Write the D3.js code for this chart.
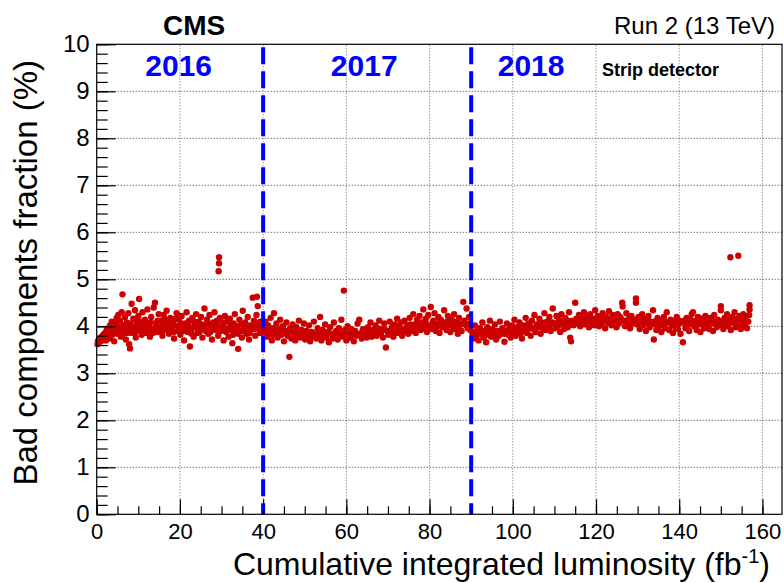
<!DOCTYPE html>
<html>
<head>
<meta charset="utf-8">
<script src="https://cdn.jsdelivr.net/npm/d3@7"></script>
<style>
	body { margin: 0; background: #fff; }
	text { font-family: "Liberation Sans", Arial, sans-serif; }
</style>
</head>
<body onload="onLoad()">
<div></div>
<script>
// [lumi (fb-1), bad fraction (%)]
var points2016 = [
	[0.2,3.62],[0.4,3.70],[0.6,3.66],[0.8,3.74],[1.0,3.68],[1.2,3.78],[1.4,3.72],[1.6,3.82],[1.8,3.76],[2.0,3.86],
	[2.2,3.70],[2.4,3.92],[2.6,3.80],[2.8,3.96],[3.0,3.74],[3.2,4.02],[3.4,3.88],[3.6,4.10],[3.8,3.82],[4.0,3.98],
	[4.2,3.68],[4.4,4.06],[4.6,3.90],[4.8,4.18],[5.0,3.84],[5.2,4.24],[5.4,3.96],[5.6,4.12],[5.8,3.78],[6.0,4.30],
	[6.2,4.68],[6.4,4.02],[6.6,3.88],[6.8,4.20],[7.0,3.72],[7.2,4.08],[7.4,3.94],[7.6,4.28],[7.8,3.62],[8.0,3.53],
	[8.2,4.00],[8.4,4.48],[8.6,3.86],[8.8,4.16],[9.0,3.92],[9.2,4.34],[9.4,3.76],[9.6,4.06],[9.8,3.98],[10.0,4.22],
	[10.2,4.58],[10.4,3.90],[10.6,4.10],[10.8,3.82],[11.0,4.30],[11.3,3.96],[11.6,4.14],[11.9,3.86],[12.2,4.36],[12.5,4.02],
	[12.8,3.78],[13.1,4.20],[13.4,3.94],[13.7,4.40],[14.0,4.50],[14.3,4.08],[14.6,3.88],[14.9,4.26],[15.2,3.98],[15.5,4.12],
	[15.8,3.80],[16.1,4.24],[16.4,3.92],[16.8,4.33],[17.1,4.06],[17.4,3.84],[17.7,4.18],[18.0,3.96],[18.3,4.10],[18.6,3.74],
	[18.9,4.02],[19.2,4.28],[19.5,3.90],[19.8,4.14],[20.1,3.82],[20.4,4.22],[20.7,3.98],[21.0,3.70],[21.3,4.06],[21.6,4.30],
	[21.9,3.88],[22.2,4.12],[22.4,3.57],[22.7,3.94],[23.0,4.18],[23.3,3.78],[23.6,4.04],[23.9,4.26],[24.2,3.86],[24.5,4.10],
	[24.8,3.96],[25.1,4.20],[25.4,3.76],[25.7,4.02],[25.9,4.38],[26.2,3.90],[26.5,4.14],[26.8,3.84],[27.1,4.24],[27.4,3.98],
	[27.7,3.72],[28.0,4.08],[28.3,4.30],[28.6,3.92],[28.9,4.12],[29.2,3.80],[29.4,5.47],[29.4,5.34],[29.3,5.17],[29.6,4.18],
	[29.9,3.96],[30.2,4.04],[30.5,3.70],[30.8,4.22],[31.1,3.88],[31.4,4.10],[31.7,3.78],[32.0,4.16],[32.3,3.94],[32.6,3.64],
	[32.9,4.06],[33.2,4.26],[33.5,3.86],[33.8,4.00],[34.0,3.52],[34.3,4.14],[34.6,3.90],[34.9,3.76],[35.1,4.33],[35.4,3.98],
	[35.7,4.08],[36.0,3.84],[36.3,4.20],[36.6,3.72],[36.9,4.02],[37.2,3.94],[37.5,4.61],[37.8,4.12],[38.1,3.80],[38.4,4.24],
	[38.7,4.43],[39.0,3.96],[39.3,4.10],[39.6,3.88],[39.9,4.04],[38.5,4.63],
	[0.3,3.68],[0.9,3.72],[1.5,3.76],[2.1,3.80],[2.7,3.84],[3.3,3.78],[3.9,3.94],[4.5,3.86],[5.1,4.00],[5.7,3.92],
	[6.3,3.84],[6.9,3.98],[7.5,3.86],[8.1,4.06],[8.7,3.96],[9.3,3.88],[9.9,4.10],[10.5,3.98],[11.1,3.88],[11.7,4.04],
	[12.3,3.92],[12.9,4.08],[13.5,3.86],[14.1,3.98],[14.7,4.12],[15.3,3.90],[15.9,4.02],[16.5,4.14],[17.2,3.94],[17.9,4.04],
	[18.5,3.88],[19.0,4.16],[19.7,3.98],[20.3,4.06],[20.9,3.90],[21.5,3.96],[22.1,4.02],[22.8,3.84],[23.5,4.10],[24.1,3.96],
	[24.7,3.88],[25.3,4.04],[26.0,3.94],[26.7,4.06],[27.3,3.88],[28.1,3.96],[28.8,4.02],[29.8,3.90],[30.4,4.08],[31.0,3.96],
	[31.6,3.92],[32.2,4.02],[32.8,3.82],[33.4,3.96],[34.1,3.84],[34.8,4.04],[35.5,3.90],[36.2,3.96],[36.8,3.86],[37.4,4.00],
	[38.0,3.94],[38.6,4.02],[39.2,3.86],[39.8,3.96]
];

var points2017 = [
	[40.3,3.92],[40.6,4.10],[40.9,3.78],[41.2,4.02],[41.5,3.86],[41.8,4.18],[42.1,3.70],[42.4,3.96],[42.6,4.28],[42.9,3.84],
	[43.2,4.06],[43.5,3.76],[43.8,3.94],[44.1,4.14],[44.4,3.82],[44.7,4.00],[45.0,3.68],[45.3,3.90],[45.6,4.08],[45.9,3.80],
	[46.3,3.35],[46.5,3.96],[46.8,3.74],[47.1,4.04],[47.4,3.86],[47.7,3.70],[48.0,3.98],[48.3,3.80],[48.6,4.12],[48.9,3.76],
	[49.2,3.92],[49.5,3.84],[49.8,4.06],[50.1,3.72],[50.4,3.90],[50.7,3.80],[51.0,4.02],[51.3,3.68],[51.6,3.88],[51.9,3.78],
	[52.2,4.10],[52.5,3.84],[52.8,3.74],[53.1,3.96],[53.4,3.82],[53.7,4.20],[54.0,3.70],[54.3,3.92],[54.6,3.80],[54.9,4.04],
	[55.2,3.76],[55.5,3.88],[55.8,3.66],[56.1,3.98],[56.4,3.84],[56.7,3.74],[57.0,4.08],[57.3,3.80],[57.6,3.90],[57.9,3.72],
	[58.2,3.96],[58.5,3.86],[58.8,4.14],[59.1,3.78],[59.4,4.76],[59.7,3.92],[60.0,3.70],[60.3,4.00],[60.6,3.82],[60.9,3.76],
	[61.2,3.94],[61.5,3.86],[61.8,3.68],[62.1,3.90],[62.4,3.80],[62.7,4.06],[63.1,4.14],[63.4,3.84],[63.7,3.74],[64.0,3.94],
	[64.3,3.82],[64.6,3.88],[64.9,3.76],[65.2,3.98],[65.5,3.84],[65.8,4.08],[66.1,3.78],[66.4,3.92],[66.7,3.86],[67.0,4.02],
	[67.3,3.80],[67.6,3.96],[67.9,4.12],[68.2,3.84],[68.5,3.94],[68.8,3.76],[69.1,4.06],[69.5,3.55],[69.8,3.90],[70.1,3.82],
	[70.4,4.10],[70.7,3.88],[71.0,3.98],[71.3,3.78],[71.6,4.04],[71.9,3.92],[72.2,4.16],[72.5,3.86],[72.8,3.96],[73.1,4.08],
	[73.4,3.80],[73.7,3.94],[74.0,4.12],[74.3,3.88],[74.6,4.02],[74.9,3.84],[75.2,4.18],[75.5,3.96],[75.8,3.90],[76.1,4.26],
	[76.4,4.04],[76.7,3.86],[77.0,4.14],[77.3,3.98],[77.6,4.22],[77.9,3.92],[78.2,4.08],[78.5,4.36],[78.8,3.96],[79.1,4.16],
	[79.4,3.88],[79.7,4.24],[80.0,4.02],[80.3,4.41],[80.6,3.94],[80.9,4.12],[81.2,4.28],[81.5,3.90],[81.8,4.06],[82.1,4.20],
	[82.4,3.86],[82.7,4.14],[83.0,3.98],[83.5,4.34],[83.8,4.08],[84.1,3.92],[84.4,4.22],[84.7,4.02],[85.0,3.88],[85.3,4.16],
	[85.6,4.00],[85.9,4.26],[86.2,3.94],[86.5,4.10],[86.8,3.84],[87.1,4.18],[87.4,4.04],[87.7,3.90],[88.1,4.52],[88.4,4.12],
	[88.9,4.38],[89.2,3.96],[89.5,4.20],[89.8,3.92],
	[40.5,3.88],[41.4,3.96],[42.3,3.82],[43.0,3.92],[43.9,3.86],[44.8,3.94],[45.7,3.84],[46.7,3.90],[47.6,3.82],[48.5,3.88],
	[49.4,3.78],[50.3,3.84],[51.2,3.86],[52.1,3.80],[53.0,3.88],[53.9,3.84],[54.8,3.78],[55.7,3.86],[56.6,3.82],[57.5,3.88],
	[58.4,3.80],[59.3,3.86],[60.2,3.84],[61.1,3.80],[62.0,3.86],[62.9,3.82],[63.8,3.88],[64.7,3.82],[65.6,3.90],[66.5,3.84],
	[67.4,3.92],[68.3,3.86],[69.2,3.94],[70.0,3.88],[70.9,3.94],[71.8,3.86],[72.7,4.00],[73.6,3.92],[74.5,3.96],[75.4,4.04],
	[76.3,3.98],[77.2,4.06],[78.1,4.00],[79.0,4.08],[79.9,3.98],[80.8,4.06],[81.7,4.00],[82.6,4.08],[83.4,4.02],[84.3,4.10],
	[85.2,4.04],[86.1,4.08],[87.0,3.98],[87.9,4.06],[88.8,4.02],[89.6,4.06]
];

var points2018 = [
	[90.3,3.86],[90.6,3.74],[90.9,4.02],[91.2,3.80],[91.5,3.92],[91.8,3.70],[92.1,3.96],[92.4,3.84],[92.7,4.08],[93.0,3.76],
	[93.3,3.90],[93.6,3.66],[93.9,3.98],[94.2,3.82],[94.5,4.12],[94.8,3.78],[95.1,3.94],[95.4,3.86],[95.7,4.04],[96.0,3.72],
	[96.3,3.90],[96.6,3.80],[96.9,4.10],[97.2,3.84],[97.5,3.96],[98.0,3.67],[98.3,3.88],[98.6,4.06],[98.9,3.82],[99.2,3.94],
	[99.5,3.76],[99.8,4.02],[100.1,3.88],[100.4,4.14],[100.7,3.80],[101.0,3.98],[101.3,3.90],[101.6,4.08],[101.9,3.84],[102.2,3.74],
	[102.5,4.02],[102.8,3.92],[103.1,4.18],[103.4,3.86],[103.7,4.06],[104.0,3.96],[104.3,3.80],[104.6,4.12],[104.9,3.94],[105.2,4.24],
	[105.5,3.88],[105.8,4.04],[106.1,3.98],[106.4,4.16],[106.7,3.84],[107.0,4.08],[107.3,3.96],[107.6,4.28],[107.9,3.92],[108.2,4.10],
	[108.5,4.02],[108.8,4.20],[109.1,3.90],[109.6,4.38],[109.9,4.06],[110.2,3.96],[110.5,4.22],[110.8,4.00],[111.1,4.14],[111.4,3.88],
	[111.7,4.26],[112.0,4.04],[112.3,3.94],[112.6,4.18],[112.9,4.08],[113.2,3.98],[113.5,4.30],[113.8,3.76],[114.0,3.68],[114.3,4.12],
	[114.6,4.02],[115.0,4.50],[115.3,4.16],[115.6,4.06],[115.9,4.24],[116.2,4.00],[116.5,4.18],[116.8,4.10],[117.1,4.30],[117.4,4.04],
	[117.7,4.20],[118.0,4.12],[118.3,3.98],[118.6,4.26],[118.9,4.08],[119.2,4.16],[119.5,4.02],[119.8,4.34],[120.1,4.10],[120.4,4.22],
	[120.7,4.00],[121.0,4.18],[121.3,4.06],[121.6,4.28],[121.9,4.12],[122.2,3.96],[122.5,4.20],[122.8,4.08],[123.1,4.32],[123.4,4.14],
	[123.7,4.02],[124.0,4.24],[124.3,4.10],[124.6,4.18],[124.9,3.98],[125.2,4.26],[125.5,4.06],[125.8,4.20],[126.3,4.50],[126.4,4.42],
	[126.7,4.12],[127.0,4.00],[127.3,4.28],[127.6,4.08],[127.9,4.16],[128.2,3.96],[128.5,4.22],[128.8,4.06],[129.1,4.14],[129.6,4.59],
	[129.6,4.50],[129.9,4.04],[130.2,4.20],[130.5,3.94],[130.8,4.12],[131.1,4.26],[131.4,4.02],[131.7,4.16],[132.0,3.90],[132.3,4.08],
	[132.6,4.22],[132.9,3.98],[133.2,4.10],[133.7,4.34],[133.9,3.72],[134.2,4.04],[134.5,3.92],[134.8,4.18],[135.1,4.00],[135.4,4.12],
	[135.7,3.88],[136.0,4.06],[136.3,4.20],[136.6,3.96],[137.0,4.30],[137.3,4.08],[137.6,3.92],[137.9,4.14],[138.2,4.02],[138.5,3.86],
	[138.8,4.10],[139.1,3.98],[139.4,4.20],[139.7,3.94],[140.0,4.06],[140.3,3.84],[140.9,3.66],[141.2,4.12],[141.5,3.96],[141.8,4.18],
	[142.1,4.02],[142.4,3.90],[142.7,4.14],[143.0,4.26],[143.3,4.30],[143.6,4.00],[143.9,4.10],[144.2,3.92],[144.5,4.20],[144.8,4.04],
	[145.1,3.88],[145.4,4.16],[145.7,4.08],[146.0,3.96],[146.3,4.22],[146.6,4.02],[146.9,4.12],[147.2,3.94],[147.5,4.18],[147.8,4.06],
	[148.1,3.90],[148.4,4.24],[148.7,4.08],[149.0,3.98],[149.3,4.14],[149.6,4.02],[150.0,4.43],[150.0,4.34],[150.3,4.10],[150.6,3.94],
	[150.9,4.18],[151.2,4.06],[151.5,4.26],[151.8,4.00],[152.1,4.14],[152.3,5.47],[152.4,3.92],[152.7,4.20],[153.0,4.08],[153.3,4.30],
	[153.6,3.98],[153.9,4.16],[154.2,5.50],[154.2,4.04],[154.5,4.22],[154.8,3.94],[155.1,4.12],[155.4,4.26],[155.7,4.02],[156.0,4.18],
	[156.3,3.96],[156.6,4.10],[156.9,4.45],[156.9,4.36],[156.8,4.24],
	[90.8,3.88],[91.7,3.84],[92.6,3.90],[93.5,3.82],[94.4,3.88],[95.3,3.80],[96.2,3.86],[97.1,3.90],[98.0,3.84],[98.9,3.92],
	[99.8,3.86],[100.6,3.94],[101.5,3.90],[102.4,3.96],[103.3,3.92],[104.2,4.00],[105.1,3.96],[106.0,4.04],[106.9,3.98],[107.8,4.04],
	[108.7,4.00],[109.6,4.08],[110.5,4.04],[111.4,4.10],[112.3,4.06],[113.2,4.12],[114.1,4.06],[115.0,4.10],[116.0,4.14],[117.0,4.08],
	[118.0,4.16],[119.0,4.10],[120.0,4.14],[121.0,4.12],[122.0,4.16],[123.0,4.10],[124.0,4.14],[125.0,4.12],[126.0,4.16],[127.0,4.10],
	[128.0,4.12],[129.0,4.08],[130.0,4.12],[131.0,4.08],[132.0,4.12],[133.0,4.06],[134.0,4.10],[135.0,4.06],[136.0,4.12],[137.0,4.08],
	[138.0,4.10],[139.0,4.06],[140.0,4.12],[141.0,4.08],[142.0,4.10],[143.0,4.06],[144.0,4.12],[145.0,4.08],[146.0,4.10],[147.0,4.06],
	[148.0,4.12],[149.0,4.08],[150.0,4.10],[151.0,4.06],[152.0,4.12],[153.0,4.08],[154.0,4.10],[155.0,4.06],[156.0,4.08]
];

var yearBoundaries = [40, 90];
var yearLabels = [{text: "2016", lumi: 19.7}, {text: "2017", lumi: 64.3}, {text: "2018", lumi: 104.4}];
var xTickValues = [0, 20, 40, 60, 80, 100, 120, 140, 160];
var yTickValues = [0, 1, 2, 3, 4, 5, 6, 7, 8, 9, 10];
var xDomain = [0, 164.7],
	yDomain = [0, 10];

var svgContainer,
	frame = {left: 96.7, top: 44.3, right: 782, bottom: 514.3},
	xScale, yScale;

function onLoad() {
	svgContainer = d3.select("div")
	.append("svg")
	.attr("width", 784)
	.attr("height", 583);

	xScale = d3.scaleLinear().domain(xDomain).range([frame.left, frame.right]);
	yScale = d3.scaleLinear().domain(yDomain).range([frame.bottom, frame.top]);

	drawGrid();
	drawPoints(points2016.concat(points2017, points2018), "#cc0000", 3.2);
	drawYearLines();
	drawAxes();
	drawTexts();
}

function drawGrid() {
	var grid = svgContainer.append("g");
	grid.selectAll(".gx")
	.data(xTickValues.filter((v) => v > 0))
	.enter().append("line")
	.attr("x1", (d) => xScale(d)).attr("x2", (d) => xScale(d))
	.attr("y1", frame.bottom).attr("y2", frame.top)
	.attr("stroke", "#666").attr("stroke-width", 1).attr("stroke-dasharray", "1,2");

	grid.selectAll(".gy")
	.data(yTickValues.filter((v) => v > 0 && v < 10))
	.enter().append("line")
	.attr("x1", frame.left).attr("x2", frame.right)
	.attr("y1", (d) => yScale(d)).attr("y2", (d) => yScale(d))
	.attr("stroke", "#333").attr("stroke-width", 1).attr("stroke-dasharray", "1,2");
}

function drawPoints(points, color, size) {
	svgContainer.append("g")
	.selectAll("circle")
	.data(points)
	.enter().append("circle")
	.attr("cx", (d) => xScale(d[0]))
	.attr("cy", (d) => yScale(d[1]))
	.attr("r", size)
	.style("fill", color);
}

function drawYearLines() {
	svgContainer.append("g")
	.selectAll("line")
	.data(yearBoundaries)
	.enter().append("line")
	.attr("x1", (d) => xScale(d)).attr("x2", (d) => xScale(d))
	.attr("y1", frame.top + 3).attr("y2", frame.bottom)
	.attr("stroke", "#0000ff").attr("stroke-width", 4).attr("stroke-dasharray", "17,7");
}

function drawAxes() {
	var minorX = d3.range(0, 165, 5),
		minorY = d3.range(0, 10.01, 0.2);

	var xAxisMinor = d3.axisBottom(xScale).tickValues(minorX).tickSizeInner(-8).tickSizeOuter(0).tickFormat("");
	var xAxis = d3.axisBottom(xScale).tickValues(xTickValues).tickSizeInner(-15).tickSizeOuter(0).tickPadding(9);
	var yAxisMinor = d3.axisLeft(yScale).tickValues(minorY).tickSizeInner(-11).tickSizeOuter(0).tickFormat("");
	var yAxis = d3.axisLeft(yScale).tickValues(yTickValues).tickSizeInner(-19).tickSizeOuter(0).tickPadding(7);

	[xAxisMinor, xAxis].forEach((ax) => {
		svgContainer.append("g")
		.attr("class", "xaxis")
		.attr("transform", "translate(0," + frame.bottom + ")")
		.call(ax);
	});
	[yAxisMinor, yAxis].forEach((ax) => {
		svgContainer.append("g")
		.attr("class", "yaxis")
		.attr("transform", "translate(" + frame.left + ",0)")
		.call(ax);
	});

	svgContainer.selectAll(".domain").remove();
	svgContainer.selectAll(".tick line").attr("stroke", "#000").attr("stroke-width", 1.2);
	svgContainer.selectAll(".tick text")
	.attr("fill", "#000")
	.style("font-family", "'Liberation Sans', Arial, sans-serif");
	svgContainer.selectAll(".xaxis .tick text").style("font-size", "22px");
	svgContainer.selectAll(".yaxis .tick text").style("font-size", "24px");

	svgContainer.append("rect")
	.attr("x", frame.left).attr("y", frame.top)
	.attr("width", frame.right - frame.left).attr("height", frame.bottom - frame.top)
	.attr("fill", "none").attr("stroke", "#000").attr("stroke-width", 1.2);
}

function drawTexts() {
	svgContainer.append("text")
	.attr("x", 163).attr("y", 35)
	.style("font-size", "28px").style("font-weight", "bold")
	.text("CMS");

	svgContainer.append("text")
	.attr("x", 775).attr("y", 34)
	.attr("text-anchor", "end")
	.style("font-size", "24px")
	.text("Run 2 (13 TeV)");

	svgContainer.selectAll(".year")
	.data(yearLabels)
	.enter().append("text")
	.attr("x", (d) => xScale(d.lumi)).attr("y", 76)
	.attr("text-anchor", "middle")
	.attr("fill", "#0000ff")
	.style("font-size", "30px").style("font-weight", "bold")
	.text((d) => d.text);

	svgContainer.append("text")
	.attr("x", 602).attr("y", 76)
	.style("font-size", "18px").style("font-weight", "bold")
	.text("Strip detector");

	var xTitle = svgContainer.append("text")
	.attr("x", 770).attr("y", 575)
	.attr("text-anchor", "end")
	.style("font-size", "32px");
	xTitle.append("tspan").text("Cumulative integrated luminosity (fb");
	xTitle.append("tspan").attr("dy", -12).style("font-size", "20px").text("-1");
	xTitle.append("tspan").attr("dy", 12).text(")");

	svgContainer.append("text")
	.attr("transform", "translate(37,60) rotate(-90)")
	.attr("text-anchor", "end")
	.style("font-size", "33px")
	.text("Bad components fraction (%)");
}
</script>
</body>
</html>
